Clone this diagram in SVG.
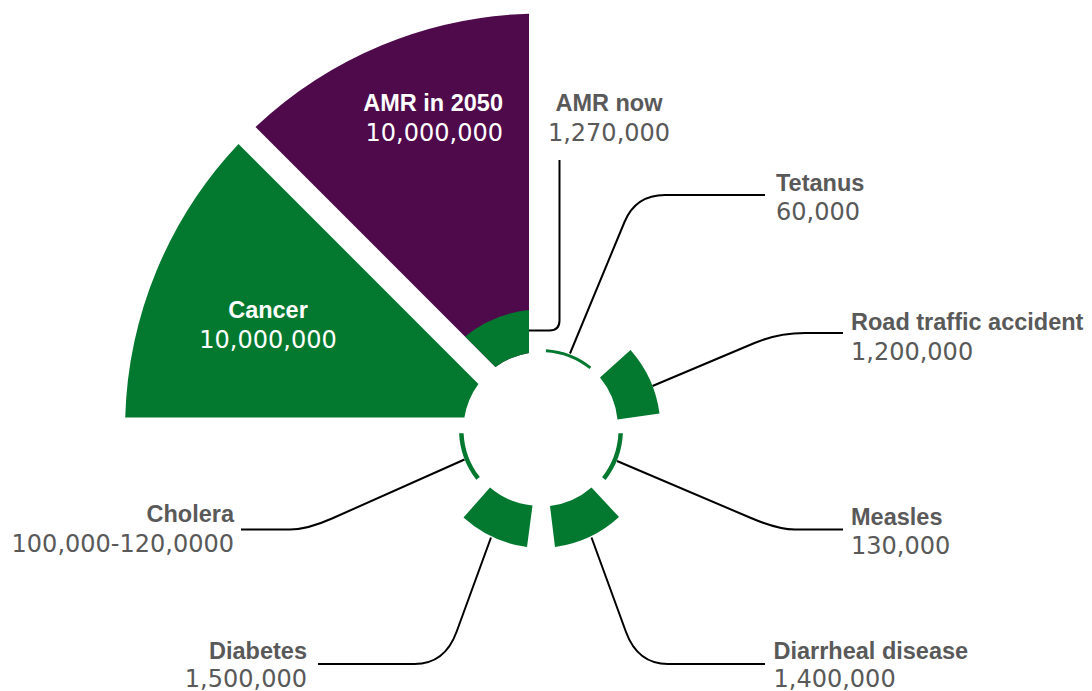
<svg xmlns="http://www.w3.org/2000/svg" width="1092" height="691" viewBox="0 0 1092 691">
<style>
.purple{fill:#4e0a4b}
.green{fill:#03782f}
.lab{font-family:"Liberation Sans",Arial,sans-serif;font-weight:bold;font-size:23.5px;fill:#595959}
.val{font-family:"DejaVu Sans",sans-serif;font-size:24px;fill:#595959}
.w{fill:#ffffff}
.conn path{fill:none;stroke:#000;stroke-width:2}
</style>
<rect width="1092" height="691" fill="#fff"/>
<g id="connectors" class="conn">
<path d="M 559.5 160 V 320.5 Q 559.5 330.5 549.5 330.5 H 529"/>
<path d="M 570 353.5 L 624.5 222 Q 635.7 195 665 195 H 765"/>
<path d="M 652.5 386 L 754.5 343 Q 778.2 333 805 333 H 843"/>
<path d="M 617 461 L 751 518 Q 778 529.5 795 529.5 H 843"/>
<path d="M 591.5 537.5 L 626 632 Q 637.7 664 668 664 H 765"/>
<path d="M 491 537.5 L 456.5 632 Q 444.8 664 414.5 664 H 318"/>
<path d="M 464.5 459.5 L 332 518.5 Q 307.3 529.5 290 529.5 H 241"/>
</g>
<g id="amr2050">
<path class="purple" d="M 529 13.7 A 416 416 0 0 0 255.5 127 L 495.4 366.9 A 77.5 77.5 0 0 1 529 352.9 Z"/>
<text class="lab w" x="503" y="111" text-anchor="end">AMR in 2050</text>
<text class="val w" x="503" y="141" text-anchor="end">10,000,000</text>
</g>
<g id="cancer">
<path class="green" d="M 125.2 417.5 A 416 416 0 0 1 238.5 144 L 478.4 383.9 A 77.5 77.5 0 0 0 464.4 417.5 Z"/>
<text class="lab w" x="268" y="318" text-anchor="middle">Cancer</text>
<text class="val w" x="268" y="348" text-anchor="middle">10,000,000</text>
</g>
<g id="amrnow">
<path class="green" d="M 529 310.1 A 120 120 0 0 0 465.1 336.6 L 495.4 366.9 A 77.5 77.5 0 0 1 529 352.9 Z"/>
<text class="lab" x="609" y="111" text-anchor="middle">AMR now</text>
<text class="val" x="609" y="141" text-anchor="middle">1,270,000</text>
</g>
<g id="tetanus">
<path class="green" d="M 546.06 349.16 A 80.5 80.5 0 0 1 591.33 366.68 L 589.45 369.02 A 77.5 77.5 0 0 0 545.87 352.15 Z"/>
<text class="lab" x="776" y="191">Tetanus</text>
<text class="val" x="776" y="220">60,000</text>
</g>
<g id="road">
<path class="green" d="M 630.5 350 A 119.5 119.5 0 0 1 659.5 413.5 L 617.5 419.5 A 77.5 77.5 0 0 0 600 377.5 Z"/>
<text class="lab" x="851" y="329.5">Road traffic accident</text>
<text class="val" x="851" y="359.5">1,200,000</text>
</g>
<g id="measles">
<path class="green" d="M 622.91 433.36 A 82 82 0 0 1 605.62 479.99 L 602.07 477.22 A 77.5 77.5 0 0 0 618.41 433.15 Z"/>
<text class="lab" x="851" y="525">Measles</text>
<text class="val" x="851" y="554">130,000</text>
</g>
<g id="diarrheal">
<path class="green" d="M 619 517 A 118 118 0 0 1 555 547 L 550 506 A 77.5 77.5 0 0 0 591.5 487.5 Z"/>
<text class="lab" x="773.5" y="658.5">Diarrheal disease</text>
<text class="val" x="773.5" y="687">1,400,000</text>
</g>
<g id="diabetes">
<path class="green" d="M 527 547 A 118 118 0 0 1 463.5 517.5 L 490 487.5 A 77.5 77.5 0 0 0 532.5 505.5 Z"/>
<text class="lab" x="307" y="658.5" text-anchor="end">Diabetes</text>
<text class="val" x="307" y="687" text-anchor="end">1,500,000</text>
</g>
<g id="cholera">
<path class="green" d="M 476.29 479.87 A 82 82 0 0 1 459.09 433.36 L 463.59 433.15 A 77.5 77.5 0 0 0 479.84 477.11 Z"/>
<text class="lab" x="234" y="522" text-anchor="end">Cholera</text>
<text class="val" x="234" y="552" text-anchor="end">100,000-120,0000</text>
</g>
</svg>
